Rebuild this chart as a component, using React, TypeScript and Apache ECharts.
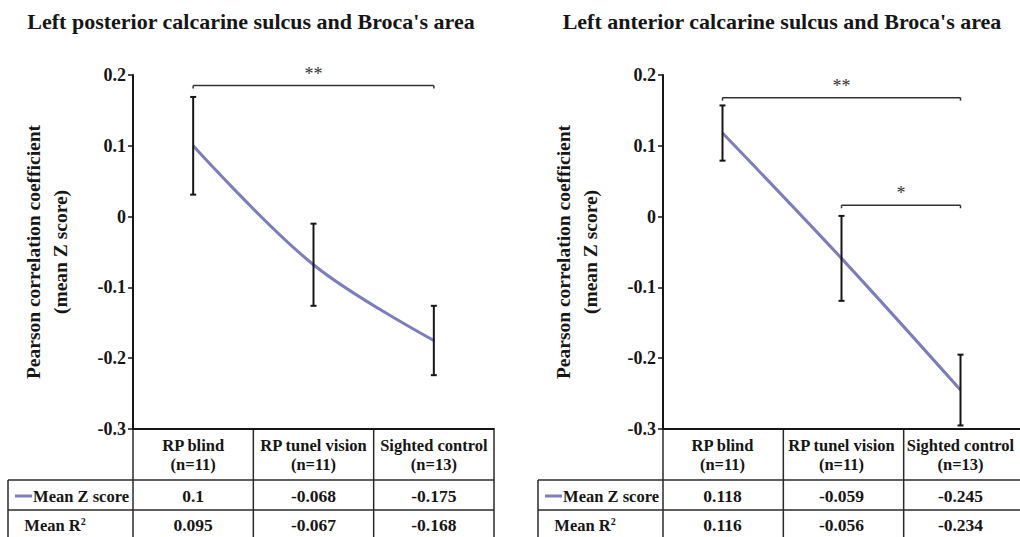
import React, { useEffect, useRef } from 'react';
import * as echarts from 'echarts';

const categories = ['RP blind', 'RP tunel vision', 'Sighted control'];
const groupSizes = ['(n=11)', '(n=11)', '(n=13)'];

const posteriorZ = [0.1, -0.068, -0.175];
const posteriorR2 = [0.095, -0.067, -0.168];
const posteriorErr = [0.069, 0.058, 0.049];
const posteriorBrackets = [{ from: 0, to: 2, y: 0.185, label: '**' }];

const anteriorZ = [0.118, -0.059, -0.245];
const anteriorR2 = [0.116, -0.056, -0.234];
const anteriorErr = [0.039, 0.06, 0.05];
const anteriorBrackets = [
  { from: 0, to: 2, y: 0.168, label: '**' },
  { from: 1, to: 2, y: 0.016, label: '*' },
];

const yMin = -0.3;
const yMax = 0.2;
const yInterval = 0.1;

const titles = [
  "Left posterior calcarine sulcus and Broca's area",
  "Left anterior calcarine sulcus and Broca's area",
];
const yName = 'Pearson correlation coefficient\n(mean Z score)';
const rowLabelZ = 'Mean Z score';
const rowLabelR2 = 'Mean R{sup|2}';

const FONT = 'Times New Roman, Liberation Serif, serif';
const LINE_COLOR = '#7d7dbd';
const INK = '#161616';

const GRID_TOP = 75;
const GRID_H = 354;
const TABLE_TOP = 430;
const HEAD_BOTTOM = 480;
const ROW1_BOTTOM = 510;
const ROW2_BOTTOM = 542;

const panels = [
  { title: titles[0], z: posteriorZ, r2: posteriorR2, err: posteriorErr, brackets: posteriorBrackets, left: 133, width: 361, titleX: 251, labelLeft: 8 },
  { title: titles[1], z: anteriorZ, r2: anteriorR2, err: anteriorErr, brackets: anteriorBrackets, left: 663, width: 361, titleX: 782, labelLeft: 538 },
];

export default function App() {
  const ref = useRef<HTMLDivElement>(null);

  useEffect(() => {
    if (!ref.current) return;
    const chart = echarts.init(ref.current, null, { renderer: 'svg' });

    const series: any[] = [];
    panels.forEach((p, i) => {
      series.push({
        type: 'line',
        xAxisIndex: i,
        yAxisIndex: i,
        data: p.z,
        smooth: 0.35,
        symbol: 'none',
        lineStyle: { color: LINE_COLOR, width: 3 },
        z: 2,
      });
      series.push({
        type: 'custom',
        xAxisIndex: i,
        yAxisIndex: i,
        z: 3,
        clip: false,
        data: p.z.map((v, k) => [k, v - p.err[k], v + p.err[k]]),
        encode: { x: 0, y: [1, 2] },
        renderItem: (params: any, api: any) => {
          const x = api.value(0);
          const lo = api.coord([x, api.value(1)]);
          const hi = api.coord([x, api.value(2)]);
          const cap = 3;
          const style = { stroke: INK, lineWidth: 2 };
          return {
            type: 'group',
            children: [
              { type: 'line', shape: { x1: lo[0], y1: lo[1], x2: hi[0], y2: hi[1] }, style },
              { type: 'line', shape: { x1: hi[0] - cap, y1: hi[1], x2: hi[0] + cap, y2: hi[1] }, style },
              { type: 'line', shape: { x1: lo[0] - cap, y1: lo[1], x2: lo[0] + cap, y2: lo[1] }, style },
            ],
          };
        },
      });
      series.push({
        type: 'custom',
        xAxisIndex: i,
        yAxisIndex: i,
        z: 3,
        clip: false,
        data: p.brackets.map((b) => [b.from, b.to, b.y]),
        encode: { x: [0, 1], y: 2 },
        renderItem: (params: any, api: any) => {
          const a = api.coord([api.value(0), api.value(2)]);
          const b = api.coord([api.value(1), api.value(2)]);
          const style = { stroke: '#333', lineWidth: 1.5 };
          const label = p.brackets[params.dataIndex].label;
          return {
            type: 'group',
            children: [
              { type: 'line', shape: { x1: a[0], y1: a[1], x2: b[0], y2: b[1] }, style },
              { type: 'line', shape: { x1: a[0], y1: a[1], x2: a[0], y2: a[1] + 3 }, style },
              { type: 'line', shape: { x1: b[0], y1: b[1], x2: b[0], y2: b[1] + 3 }, style },
              {
                type: 'text',
                x: (a[0] + b[0]) / 2,
                y: a[1] - 3,
                style: {
                  text: label,
                  fontFamily: FONT,
                  fontSize: 18,
                  fill: '#333',
                  align: 'center',
                  verticalAlign: 'bottom',
                },
              },
            ],
          };
        },
      });
    });

    chart.setOption({
      animation: false,
      backgroundColor: '#fff',
      textStyle: { fontFamily: FONT },
      grid: panels.map((p) => ({ left: p.left, top: GRID_TOP, width: p.width, height: GRID_H })),
      xAxis: panels.map((p, i) => ({
        type: 'category',
        gridIndex: i,
        data: categories,
        boundaryGap: true,
        axisLine: { show: true, onZero: false, lineStyle: { color: INK, width: 2 } },
        axisTick: { show: false },
        axisLabel: { show: false },
        splitLine: { show: false },
      })),
      yAxis: panels.map((p, i) => ({
        type: 'value',
        gridIndex: i,
        min: yMin,
        max: yMax,
        interval: yInterval,
        splitLine: { show: false },
        axisLine: { show: true, lineStyle: { color: INK, width: 2 } },
        axisTick: { show: true, length: 5, lineStyle: { color: INK, width: 1.5 } },
        axisLabel: {
          formatter: (v: number) => String(Number(v.toFixed(2))),
          fontFamily: FONT,
          fontWeight: 'bold',
          fontSize: 18,
          color: INK,
          margin: 7,
        },
        name: yName,
        nameLocation: 'middle',
        nameRotate: 90,
        nameGap: 59,
        nameTextStyle: {
          fontFamily: FONT,
          fontWeight: 'bold',
          fontSize: 19.5,
          lineHeight: 27,
          color: INK,
        },
      })),
      series,
    });

    const graphics: any[] = [];
    const lineStyle = { stroke: '#2a2a2a', lineWidth: 1.5 };
    const textBase = { fontFamily: FONT, fontWeight: 'bold', fill: INK, fontSize: 16.5 };
    panels.forEach((p, i) => {
      graphics.push({
        type: 'text',
        x: p.titleX,
        y: 21,
        style: { ...textBase, text: p.title, fontSize: 22, align: 'center', verticalAlign: 'middle' },
      });
      const right = p.left + p.width;
      const n = categories.length;
      const edges = Array.from({ length: n + 1 }, (_, k) => p.left + (k * p.width) / n);
      edges.forEach((x) => {
        graphics.push({ type: 'line', shape: { x1: x, y1: TABLE_TOP, x2: x, y2: ROW2_BOTTOM }, style: lineStyle });
      });
      [HEAD_BOTTOM, ROW1_BOTTOM].forEach((y) => {
        graphics.push({ type: 'line', shape: { x1: p.labelLeft, y1: y, x2: right, y2: y }, style: lineStyle });
      });
      graphics.push({ type: 'line', shape: { x1: p.labelLeft, y1: HEAD_BOTTOM, x2: p.labelLeft, y2: ROW2_BOTTOM }, style: lineStyle });

      categories.forEach((c, k) => {
        const cx = chart.convertToPixel({ xAxisIndex: i } as any, k) as unknown as number;
        graphics.push({
          type: 'text',
          x: cx,
          y: (TABLE_TOP + HEAD_BOTTOM) / 2,
          style: { ...textBase, text: `${c}\n${groupSizes[k]}`, lineHeight: 19, align: 'center', verticalAlign: 'middle' },
        });
        graphics.push({
          type: 'text',
          x: cx,
          y: (HEAD_BOTTOM + ROW1_BOTTOM) / 2 + 1,
          style: { ...textBase, text: String(p.z[k]), fontSize: 17.5, align: 'center', verticalAlign: 'middle' },
        });
        graphics.push({
          type: 'text',
          x: cx,
          y: (ROW1_BOTTOM + ROW2_BOTTOM) / 2 - 1,
          style: { ...textBase, text: String(p.r2[k]), fontSize: 17.5, align: 'center', verticalAlign: 'middle' },
        });
      });

      graphics.push({
        type: 'line',
        shape: { x1: p.labelLeft + 7, y1: 496, x2: p.labelLeft + 24, y2: 496 },
        style: { stroke: LINE_COLOR, lineWidth: 3 },
      });
      graphics.push({
        type: 'text',
        x: p.left - 4,
        y: (HEAD_BOTTOM + ROW1_BOTTOM) / 2 + 1,
        style: { ...textBase, text: rowLabelZ, fontSize: 16.5, align: 'right', verticalAlign: 'middle' },
      });
      graphics.push({
        type: 'text',
        x: p.left - 78,
        y: (ROW1_BOTTOM + ROW2_BOTTOM) / 2 - 1,
        style: {
          ...textBase,
          text: rowLabelR2,
          fontSize: 16.5,
          align: 'center',
          verticalAlign: 'middle',
          rich: {
            sup: { fontFamily: FONT, fontWeight: 'bold', fill: INK, fontSize: 10, verticalAlign: 'top', padding: [0, 0, 8, 0] },
          },
        },
      });
    });

    chart.setOption({ graphic: graphics });

    return () => chart.dispose();
  }, []);

  return (
    <div
      ref={ref}
      style={{ position: 'fixed', left: 0, top: 0, width: 1020, height: 537, background: '#fff' }}
    />
  );
}
